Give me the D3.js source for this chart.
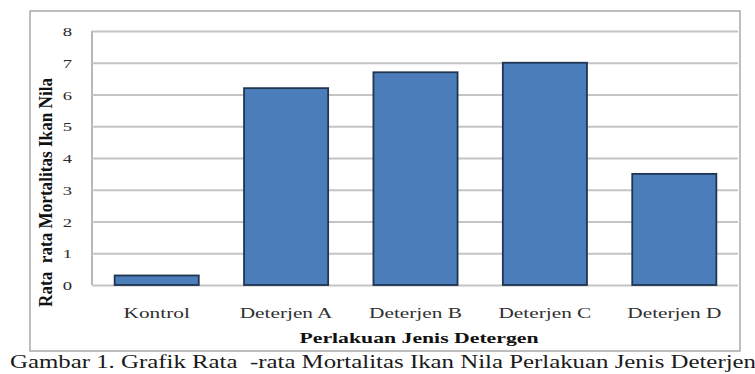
<!DOCTYPE html>
<html>
<head>
<meta charset="utf-8">
<script src="https://cdn.jsdelivr.net/npm/d3@7/dist/d3.min.js"></script>
<style>
  html, body { margin: 0; padding: 0; background: #fff; }
  svg { display: block; }
  text { font-family: "Liberation Serif", "Times New Roman", serif; white-space: pre; }
</style>
</head>
<body>
<svg id="chart" width="755" height="374"></svg>
<script>
// Mean mortality of Nile tilapia per detergent treatment
const categories = ["Kontrol", "Deterjen A", "Deterjen B", "Deterjen C", "Deterjen D"];
const mortality = [0.3, 6.2, 6.7, 7.0, 3.5];
const yTicks = [0, 1, 2, 3, 4, 5, 6, 7, 8];
const yTitle = "Rata  rata Mortalitas Ikan Nila";
const xTitle = "Perlakuan Jenis Detergen";
const caption = "Gambar 1. Grafik Rata  -rata Mortalitas Ikan Nila Perlakuan Jenis Deterjen";

const svg = d3.select("#chart");

const plot = { left: 92, right: 739, top: 31, bottom: 285 };
const frame = { left: 30, top: 11, right: 740, bottom: 351 };

const x = d3.scaleBand()
  .domain(categories)
  .range([plot.left, plot.right])
  .paddingInner(0.35)
  .paddingOuter(0.175);

const y = d3.scaleLinear()
  .domain([0, 8])
  .range([plot.bottom, plot.top]);

// outer chart border
svg.append("rect")
  .attr("x", frame.left).attr("y", frame.top)
  .attr("width", frame.right - frame.left)
  .attr("height", frame.bottom - frame.top)
  .attr("fill", "#fff")
  .attr("stroke", "#a9a9a9")
  .attr("stroke-width", 1.5);

// horizontal gridlines and tick labels via the axis generator
const yAxis = d3.axisLeft(y)
  .tickValues(yTicks)
  .tickSize(-(plot.right - 1 - plot.left))
  .tickPadding(0)
  .tickFormat(d3.format("d"));

const gy = svg.append("g")
  .attr("transform", `translate(${plot.left},0)`)
  .call(yAxis);

gy.select(".domain")
  .attr("d", `M0,${plot.top}V${plot.bottom}`)
  .attr("stroke", "#a6a6a6")
  .attr("stroke-width", 1.6);

gy.selectAll(".tick line")
  .attr("stroke", "#c4c4c4")
  .attr("stroke-width", 1.8);

gy.selectAll(".tick text")
  .attr("x", 0)
  .attr("dy", "0.34em")
  .attr("transform", "translate(-20,0) scale(1.38,1)")
  .attr("text-anchor", "end")
  .attr("fill", "#2a2a2a")
  .style("font-size", "13.5px")
  .style("font-family", "'Liberation Serif', serif");

// bars
svg.append("g")
  .selectAll("rect")
  .data(categories.map((c, i) => ({ c, v: mortality[i] })))
  .join("rect")
  .attr("x", d => x(d.c))
  .attr("y", d => y(d.v))
  .attr("width", x.bandwidth())
  .attr("height", d => y(0) - y(d.v))
  .attr("fill", "#4a7dba")
  .attr("stroke", "#1f3552")
  .attr("stroke-width", 1.8);

// category labels
svg.append("g")
  .selectAll("text")
  .data(categories)
  .join("text")
  .attr("transform", d => `translate(${x(d) + x.bandwidth() / 2},318) scale(1.42,1)`)
  .attr("text-anchor", "middle")
  .attr("fill", "#2f2f2f")
  .style("font-size", "15px")
  .text(d => d);

// x axis title
svg.append("text")
  .attr("transform", "translate(419,343) scale(1.5,1)")
  .attr("text-anchor", "middle")
  .attr("fill", "#111")
  .style("font-size", "14.5px")
  .style("font-weight", "bold")
  .text(xTitle);

// y axis title
svg.append("text")
  .attr("transform", "translate(52,192.5) rotate(-90) scale(1,1.3)")
  .attr("text-anchor", "middle")
  .attr("fill", "#111")
  .style("font-size", "15px")
  .style("font-weight", "bold")
  .attr("textLength", 229)
  .attr("lengthAdjust", "spacingAndGlyphs")
  .text(yTitle);

// figure caption
svg.append("text")
  .attr("x", 10)
  .attr("y", 368)
  .attr("fill", "#1a1a1a")
  .style("font-size", "18px")
  .attr("textLength", 746)
  .attr("lengthAdjust", "spacingAndGlyphs")
  .text(caption);
</script>
</body>
</html>
